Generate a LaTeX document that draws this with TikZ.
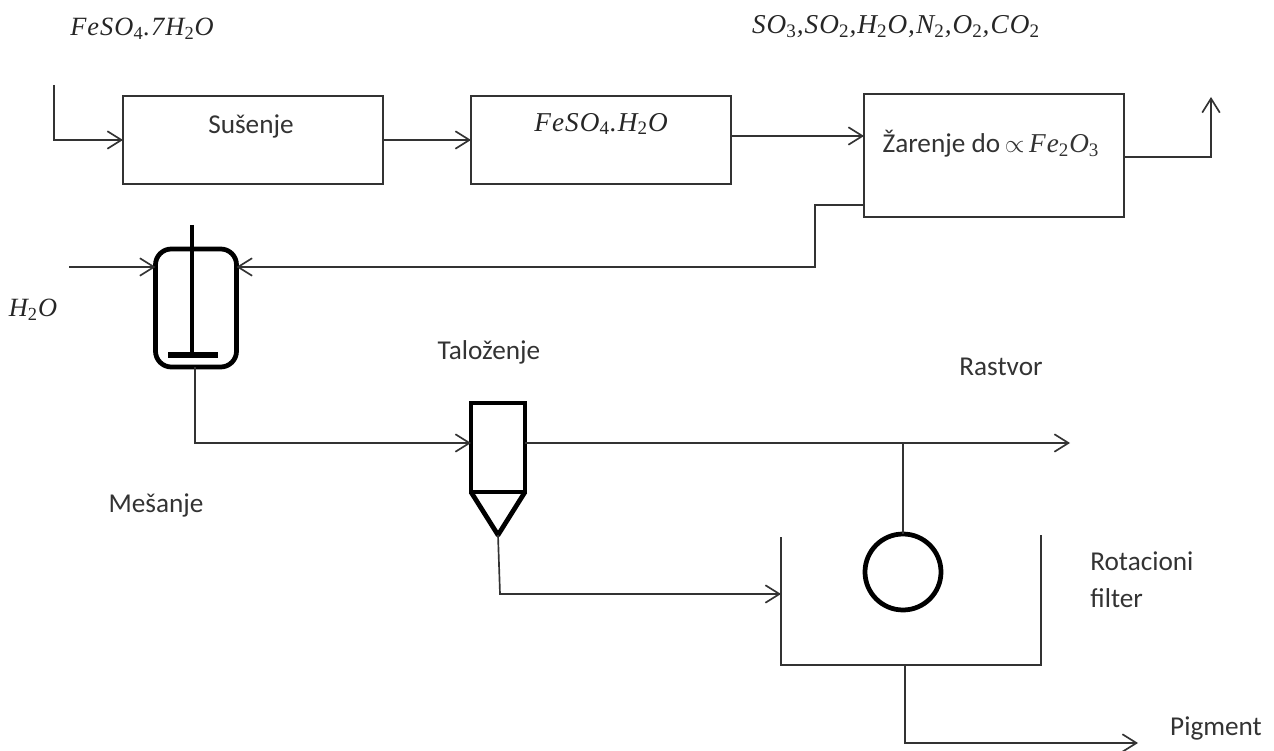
\documentclass[tikz,border=0pt]{standalone}
\usepackage[no-math]{fontspec}
\setmainfont{Carlito}
\newfontfamily\chemfont[LetterSpace=4]{Liberation Serif}
\newcommand{\ssub}[1]{\textsubscript{\upshape #1}}
\usetikzlibrary{arrows.meta}
\def\px{0.569pt}
\tikzset{
  flowline/.style = {line width=0.95pt, draw=black!80},
  flowarrow/.style = {flowline, -{Straight Barb[length=8pt,width=10pt]}},
  unitbox/.style = {draw=black!80, line width=0.95pt, inner sep=0pt, outer sep=0pt},
  vessel/.style = {draw=black, line width=2.7pt, inner sep=0pt, outer sep=0pt},
  caption/.style = {inner sep=0pt, font=\fontsize{15.5}{18}\selectfont, text=black!80},
  formula/.style = {inner sep=0pt, font=\fontsize{15}{18}\selectfont\chemfont\itshape, text=black!85},
  gasformula/.style = {formula, font=\fontsize{15.5}{18}\selectfont\chemfont\itshape}
}
\begin{document}
\begin{tikzpicture}[x=\px, y=-\px]
  \def \yrowone {140};
  \def \yrowtwo {267};
  \def \yrowthree {443};
  \useasboundingbox (0, 0) rectangle (1274, 751);

  % Draw process boxes.
  \node [unitbox, minimum width=260*\px, minimum height=88*\px] (susenje) at (253, \yrowone) {};
  \node [unitbox, minimum width=260*\px, minimum height=88*\px] (monohidrat) at (601, \yrowone) {};
  \node [unitbox, minimum width=260*\px, minimum height=123*\px] (zarenje) at (994, 155.5) {};

  % Draw mixer, settler and filter drum.
  \node [vessel, rounded corners=9pt, minimum width=81*\px, minimum height=118*\px] (mixer) at (196, 308) {};
  \node [vessel, minimum width=54*\px, minimum height=89*\px] (settler) at (498, 447.5) {};
  \node [vessel, circle, minimum size=76*\px] (drum) at (903, 572) {};

  % Named free ends.
  \coordinate (feed) at (54, 85);
  \coordinate (gasout) at (1211, 97);
  \coordinate (waterin) at (69, \yrowtwo);
  \coordinate (shafttop) at (192, 225);
  \coordinate (shaftfoot) at (192, 355);
  \coordinate (footleft) at (168, 355);
  \coordinate (footright) at (218, 355);
  \coordinate (apex) at (498, 535);
  \coordinate (liquorout) at (1070, \yrowthree);
  \coordinate (tanktl) at (781, 537);
  \coordinate (tankbl) at (781, 665);
  \coordinate (tankbr) at (1041, 665);
  \coordinate (tanktr) at (1041, 535);
  \coordinate (pigmentout) at (1138, 743);

  % Draw mixer shaft and settler cone.
  \draw [line width=2.7pt] (shafttop) -- (shaftfoot);
  \draw [line width=3.4pt] (footleft) -- (footright);
  \draw [vessel, line join=round] (settler.south west) -- (apex) -- (settler.south east);

  % Draw filter tank.
  \draw [flowline] (tanktl) -- (tankbl) -- (tankbr) -- (tanktr);

  % Draw top row connectors.
  \draw [flowarrow] (feed) |- (susenje.west);
  \draw [flowarrow] (susenje.east) -- (monohidrat.west);
  \draw [flowarrow] (monohidrat.east |- 0, 136) -- (zarenje.west |- 0, 136);
  \draw [flowarrow] (zarenje.east |- 0, 157) -| (gasout);

  % Draw feeds to the mixer.
  \draw [flowarrow] (zarenje.west |- 0, 205) -- (815, 205) -- (815, \yrowtwo) -- (mixer.east |- 0, \yrowtwo);
  \draw [flowarrow] (waterin) -- (mixer.west |- 0, \yrowtwo);

  % Draw lower connectors.
  \draw [flowarrow] (195, 367) -- (195, \yrowthree) -- (settler.west |- 0, \yrowthree);
  \draw [flowarrow] (settler.east |- 0, \yrowthree) -- (liquorout);
  \draw [flowline] (drum.north |- 0, \yrowthree) -- (drum.north);
  \draw [flowarrow] (apex) -- (500, 594) -- (tanktl |- 0, 594);
  \draw [flowarrow] (905, 665) -- (905, 743) -- (pigmentout);

  % Draw labels.
  \node [formula] (feedlabel) at (142, 29) {FeSO\ssub{4}.7H\ssub{2}O};
  \node [gasformula] (gaslabel) at (896, 27) {SO\ssub{3},SO\ssub{2},H\ssub{2}O,N\ssub{2},O\ssub{2},CO\ssub{2}};
  \node [formula] (waterlabel) at (33, 310) {H\ssub{2}O};
  \node [gasformula] (monolabel) at (601, 124) {FeSO\ssub{4}.H\ssub{2}O};
  \node [caption] (dryinglabel) at (251, 126) {Sušenje};
  \node [caption] (calcinelabel) at (991, 144) {Žarenje do\,$\propto$\,{\chemfont\itshape Fe\ssub{2}O\ssub{3}}};
  \node [caption] (settlelabel) at (489, 352) {Taloženje};
  \node [caption] (liquorlabel) at (1001, 367) {Rastvor};
  \node [caption] (mixlabel) at (156, 505) {Mešanje};
  \node [caption, align=left, anchor=west] (filterlabel) at (1090, 580) {Rotacioni\\[3pt]filter};
  \node [caption] (pigmentlabel) at (1216, 728) {Pigment};
\end{tikzpicture}
\end{document}
